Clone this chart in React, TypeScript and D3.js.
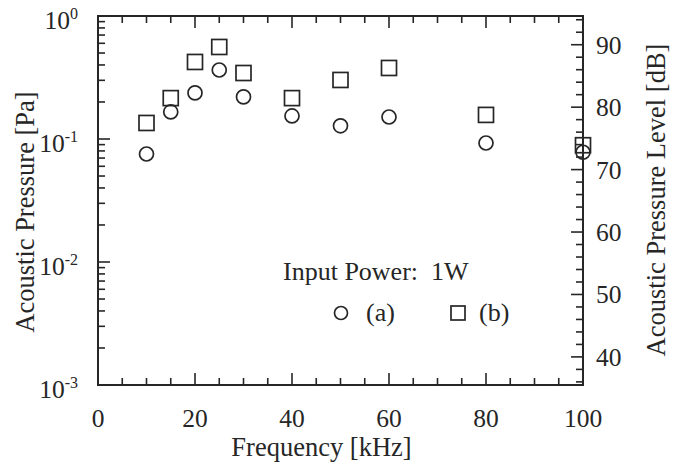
import React, { useEffect, useRef } from "react"
import * as d3 from "d3"

// frequency [kHz]
const freq = [10, 15, 20, 25, 30, 40, 50, 60, 80, 100]
// acoustic pressure [Pa], series (a) circles and (b) squares
const pressureA = [0.0755, 0.166, 0.237, 0.364, 0.22, 0.154, 0.128, 0.151, 0.0928, 0.078]
const pressureB = [0.135, 0.215, 0.423, 0.56, 0.344, 0.215, 0.302, 0.378, 0.157, 0.089]

const xTicks = [0, 20, 40, 60, 80, 100]
const yExponents = [0, -1, -2, -3]
const dbTicks = [40, 50, 60, 70, 80, 90]

const W = 680
const H = 465
const margin = { top: 16, right: 97, bottom: 80, left: 98 }
const ink = "#262626"
const font = "'Liberation Serif', 'Times New Roman', serif"

export default function App() {
  const ref = useRef<SVGSVGElement>(null)

  useEffect(() => {
    const svg = d3.select(ref.current)
    svg.selectAll("*").remove()

    const x0 = margin.left, x1 = W - margin.right
    const y0 = H - margin.bottom, y1 = margin.top

    const x = d3.scaleLinear().domain([0, 100]).range([x0, x1])
    const y = d3.scaleLog().domain([1e-3, 1]).range([y0, y1])
    const yDb = d3.scaleLinear().domain([35.5, 94.6]).range([y0, y1])

    const g = svg.append("g").attr("stroke", ink).attr("stroke-width", 1.6)

    // frame
    g.append("rect")
      .attr("x", x0).attr("y", y1)
      .attr("width", x1 - x0).attr("height", y0 - y1)
      .attr("fill", "none").attr("stroke-width", 2)

    // x ticks top and bottom, every 5, major every 20
    d3.range(5, 100, 5).forEach(v => {
      const len = v % 20 === 0 ? 12 : 7
      g.append("line").attr("x1", x(v)).attr("x2", x(v)).attr("y1", y0).attr("y2", y0 - len)
      g.append("line").attr("x1", x(v)).attr("x2", x(v)).attr("y1", y1).attr("y2", y1 + len)
    })

    // left log ticks
    for (let e = -3; e <= 0; e++) {
      const base = Math.pow(10, e)
      g.append("line").attr("x1", x0).attr("x2", x0 + 12).attr("y1", y(base)).attr("y2", y(base))
      if (e < 0) {
        for (let m = 2; m <= 9; m++) {
          const yy = y(base * m)
          g.append("line").attr("x1", x0).attr("x2", x0 + 7).attr("y1", yy).attr("y2", yy)
        }
      }
    }

    // right dB ticks
    d3.range(36, 95, 2).forEach(v => {
      const len = v % 10 === 0 ? 12 : 7
      g.append("line").attr("x1", x1).attr("x2", x1 - len).attr("y1", yDb(v)).attr("y2", yDb(v))
    })

    const txt = svg.append("g").attr("fill", ink).style("font-family", font)

    xTicks.forEach(v => {
      txt.append("text").attr("x", x(v)).attr("y", y0 + 42)
        .attr("text-anchor", "middle").style("font-size", "25.5px").text(v)
    })

    yExponents.forEach(e => {
      const t = txt.append("text").attr("x", x0 - 20).attr("y", y(Math.pow(10, e)) + 13)
        .attr("text-anchor", "end").style("font-size", "25.5px")
      t.append("tspan").text("10")
      t.append("tspan").attr("dy", -10).style("font-size", "16px").text(String(e))
    })

    dbTicks.forEach(v => {
      txt.append("text").attr("x", x1 + 13).attr("y", yDb(v) + 9)
        .style("font-size", "25.5px").text(v)
    })

    txt.append("text").attr("x", (x0 + x1) / 2 - 19).attr("y", 456)
      .attr("text-anchor", "middle").style("font-size", "26.5px").text("Frequency [kHz]")

    txt.append("text").attr("transform", "translate(34,212) rotate(-90)")
      .attr("text-anchor", "middle").style("font-size", "26.5px").text("Acoustic Pressure [Pa]")

    txt.append("text").attr("transform", "translate(665,200) rotate(-90)")
      .attr("text-anchor", "middle").style("font-size", "26.5px").text("Acoustic Pressure Level [dB]")

    // legend
    txt.append("text").attr("x", 283).attr("y", 280).style("font-size", "26px")
      .attr("xml:space", "preserve").text("Input Power:  1W")
    txt.append("text").attr("x", 366).attr("y", 321).style("font-size", "26px").text("(a)")
    txt.append("text").attr("x", 479).attr("y", 321).style("font-size", "26px").text("(b)")

    const marks = svg.append("g").attr("fill", "none").attr("stroke", ink).attr("stroke-width", 1.7)

    marks.selectAll("circle.a")
      .data(freq)
      .enter()
      .append("circle")
      .attr("cx", d => x(d))
      .attr("cy", (d, i) => y(pressureA[i]))
      .attr("r", 7)

    marks.selectAll("rect.b")
      .data(freq)
      .enter()
      .append("rect")
      .attr("x", d => x(d) - 7.5)
      .attr("y", (d, i) => y(pressureB[i]) - 7.5)
      .attr("width", 15)
      .attr("height", 15)

    marks.append("circle").attr("cx", 341).attr("cy", 313).attr("r", 6.5)
    marks.append("rect").attr("x", 451).attr("y", 306).attr("width", 14).attr("height", 14)
  }, [])

  return (
    <svg
      ref={ref}
      width={W}
      height={H}
      style={{ position: "absolute", left: 0, top: 0, background: "#fff" }}
    />
  )
}
